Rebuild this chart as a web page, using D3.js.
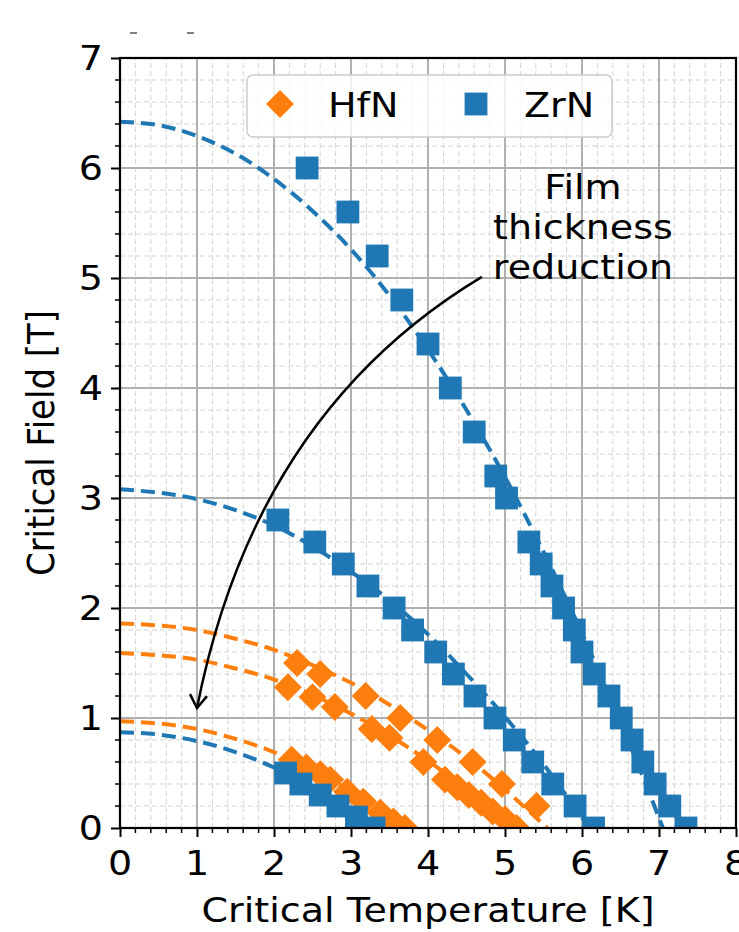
<!DOCTYPE html>
<html>
<head>
<meta charset="utf-8">
<script src="https://cdn.jsdelivr.net/npm/d3@7"></script>
<style>
  html, body { margin: 0; padding: 0; background: #fff; }
  svg { display: block; font-family: "DejaVu Sans", sans-serif; }
</style>
</head>
<body>
<svg id="chart" width="739" height="932"></svg>
<script>
// ticks
var xTicks = [0, 1, 2, 3, 4, 5, 6, 7, 8];
var yTicks = [0, 1, 2, 3, 4, 5, 6, 7];

// measured points, [T (K), Hc (T)]
var zrn1 = [[2.43, 6.0], [2.96, 5.6], [3.34, 5.2], [3.66, 4.8], [4.0, 4.4], [4.29, 4.0], [4.6, 3.6],
  [4.88, 3.2], [5.02, 3.0], [5.31, 2.6], [5.47, 2.4], [5.61, 2.2], [5.76, 2.0], [5.9, 1.8], [6.0, 1.6],
  [6.16, 1.4], [6.35, 1.2], [6.51, 1.0], [6.65, 0.8], [6.79, 0.6], [6.95, 0.4], [7.14, 0.2], [7.35, 0.0]];
var zrn2 = [[2.05, 2.8], [2.53, 2.6], [2.9, 2.4], [3.22, 2.2], [3.56, 2.0], [3.8, 1.8], [4.1, 1.6],
  [4.33, 1.4], [4.61, 1.2], [4.87, 1.0], [5.12, 0.8], [5.36, 0.6], [5.62, 0.4], [5.91, 0.2], [6.15, 0.0]];
var zrn3 = [[2.15, 0.5], [2.35, 0.4], [2.6, 0.3], [2.83, 0.2], [3.07, 0.1], [3.3, 0.0]];
var hfnA = [[2.3, 1.5], [2.6, 1.4], [3.19, 1.2], [3.64, 1.0], [4.12, 0.8], [4.58, 0.6], [4.96, 0.4], [5.41, 0.2]];
var hfnB = [[2.18, 1.28], [2.5, 1.19], [2.79, 1.1], [3.27, 0.9], [3.5, 0.82], [3.94, 0.6], [4.22, 0.44],
  [4.38, 0.37], [4.53, 0.3], [4.69, 0.23], [4.84, 0.15], [5.0, 0.08], [5.15, 0.0]];
var hfnC = [[2.23, 0.62], [2.42, 0.55], [2.6, 0.49], [2.73, 0.44], [2.95, 0.33], [3.16, 0.24],
  [3.38, 0.14], [3.55, 0.06], [3.7, 0.0]];

// dashed fit curves
var fitZrn1 = [[0, 6.42], [0.5, 6.39], [1, 6.29], [1.5, 6.13], [2, 5.90], [2.5, 5.61], [3, 5.26], [3.5, 4.84],
  [4, 4.35], [4.5, 3.80], [5, 3.19], [5.5, 2.51], [6, 1.77], [6.5, 0.96], [6.8, 0.45], [7.05, 0]];
var fitZrn2 = [[0, 3.08], [1, 2.99], [1.5, 2.89], [2, 2.75], [2.5, 2.56], [3, 2.33], [3.5, 2.07], [4, 1.76],
  [4.5, 1.40], [5, 1.01], [5.5, 0.58], [5.8, 0.29], [6.1, 0]];
var fitZrn3 = [[0, 0.87], [0.5, 0.85], [1, 0.79], [1.5, 0.69], [2, 0.55], [2.5, 0.37], [3, 0.15], [3.3, 0]];
var fitHfnA = [[0, 1.86], [1, 1.80], [1.5, 1.72], [2, 1.62], [2.5, 1.48], [3, 1.32], [3.5, 1.12], [4, 0.89],
  [4.5, 0.64], [5, 0.35], [5.3, 0.16], [5.55, 0]];
var fitHfnB = [[0, 1.59], [1, 1.53], [1.5, 1.45], [2, 1.35], [2.5, 1.21], [3, 1.04], [3.5, 0.84], [4, 0.61],
  [4.5, 0.35], [4.8, 0.18], [5.1, 0]];
var fitHfnC = [[0, 0.97], [0.5, 0.95], [1, 0.90], [1.5, 0.81], [2, 0.69], [2.5, 0.53], [3, 0.33], [3.4, 0.15], [3.7, 0]];

// annotation arrow: text anchor, control point, tip (data coords)
var arrowPts = [[4.7, 5.01], [1.75, 3.77], [1.0, 1.09]];
var annLines = ["Film", "thickness", "reduction"];

var BLUE = "#1f77b4", ORANGE = "#ff7f0e";
var FS = 34, SX = 1.12;  // the figure is a bit wider than tall, text looks stretched

var svg = d3.select("#chart");
var x = d3.scaleLinear().domain([0, 8]).range([120, 736]);
var y = d3.scaleLinear().domain([0, 7]).range([828, 58]);

// text at (px,py) stretched horizontally around its anchor
function stext(g, px, py, anchor, str) {
  return g.append("text")
    .attr("transform", "translate(" + px + "," + py + ") scale(" + SX + ",1)")
    .attr("text-anchor", anchor).attr("font-size", FS).attr("fill", "#000").text(str);
}

svg.append("clipPath").attr("id", "plotclip")
  .append("rect").attr("x", 120).attr("y", 58).attr("width", 616).attr("height", 770);

// grid
var minorX = d3.range(0, 8.001, 0.2).filter(function(v) { return Math.abs(v - Math.round(v)) > 0.01; });
var minorY = d3.range(0, 7.001, 0.2).filter(function(v) { return Math.abs(v - Math.round(v)) > 0.01; });
var grid = svg.append("g");
grid.selectAll(".mx").data(minorX).enter().append("line")
  .attr("x1", x).attr("x2", x).attr("y1", y(0)).attr("y2", y(7))
  .attr("stroke", "#d4d4d4").attr("stroke-width", 1).attr("stroke-dasharray", "5,3");
grid.selectAll(".my").data(minorY).enter().append("line")
  .attr("y1", y).attr("y2", y).attr("x1", x(0)).attr("x2", x(8))
  .attr("stroke", "#d4d4d4").attr("stroke-width", 1).attr("stroke-dasharray", "5,3");
grid.selectAll(".gx").data(xTicks).enter().append("line")
  .attr("x1", x).attr("x2", x).attr("y1", y(0)).attr("y2", y(7))
  .attr("stroke", "#b0b0b0").attr("stroke-width", 2);
grid.selectAll(".gy").data(yTicks).enter().append("line")
  .attr("y1", y).attr("y2", y).attr("x1", x(0)).attr("x2", x(8))
  .attr("stroke", "#b0b0b0").attr("stroke-width", 2);

var plot = svg.append("g").attr("clip-path", "url(#plotclip)");
var line = d3.line().x(function(d) { return x(d[0]); }).y(function(d) { return y(d[1]); })
  .curve(d3.curveMonotoneX);

[[fitHfnA, ORANGE], [fitHfnB, ORANGE], [fitHfnC, ORANGE], [fitZrn1, BLUE], [fitZrn2, BLUE], [fitZrn3, BLUE]]
  .forEach(function(f) {
    plot.append("path").attr("d", line(f[0])).attr("fill", "none")
      .attr("stroke", f[1]).attr("stroke-width", 4).attr("stroke-dasharray", "14,7");
  });

var diamond = d3.symbol().type(d3.symbolSquare).size(390);
var square = d3.symbol().type(d3.symbolSquare).size(520);

[hfnA, hfnB, hfnC].forEach(function(s) {
  plot.append("g").selectAll("path").data(s).enter().append("path")
    .attr("d", diamond)
    .attr("transform", function(d) { return "translate(" + x(d[0]) + "," + y(d[1]) + ") rotate(45)"; })
    .attr("fill", ORANGE);
});
[zrn1, zrn2, zrn3].forEach(function(s) {
  plot.append("g").selectAll("path").data(s).enter().append("path")
    .attr("d", square)
    .attr("transform", function(d) { return "translate(" + x(d[0]) + "," + y(d[1]) + ")"; })
    .attr("fill", BLUE);
});

// axes
var xAxis = d3.axisBottom(x).tickValues(xTicks).tickSize(9).tickFormat("");
var yAxis = d3.axisLeft(y).tickValues(yTicks).tickSize(9).tickFormat("");
var gx = svg.append("g").attr("transform", "translate(0," + y(0) + ")").call(xAxis);
var gy = svg.append("g").attr("transform", "translate(" + x(0) + ",0)").call(yAxis);
[gx, gy].forEach(function(g) {
  g.select(".domain").remove();
  g.selectAll("line").attr("stroke", "#000").attr("stroke-width", 2);
});
xTicks.forEach(function(t) { stext(svg, x(t), y(0) + 47, "middle", String(t)); });
yTicks.forEach(function(t) { stext(svg, x(0) - 17, y(t) + 12, "end", String(t)); });

svg.append("g").selectAll("line").data(minorX).enter().append("line")
  .attr("x1", x).attr("x2", x).attr("y1", y(0)).attr("y2", y(0) + 5)
  .attr("stroke", "#000").attr("stroke-width", 1.5);
svg.append("g").selectAll("line").data(minorY).enter().append("line")
  .attr("y1", y).attr("y2", y).attr("x1", x(0)).attr("x2", x(0) - 5)
  .attr("stroke", "#000").attr("stroke-width", 1.5);
svg.append("rect").attr("x", x(0)).attr("y", y(7)).attr("width", x(8) - x(0)).attr("height", y(0) - y(7))
  .attr("fill", "none").attr("stroke", "#000").attr("stroke-width", 2.2);

stext(svg, (x(0) + x(8)) / 2, 922, "middle", "Critical Temperature [K]");
svg.append("text").attr("transform", "translate(54," + (y(0) + y(7)) / 2 + ") scale(" + SX + ",1) rotate(-90)")
  .attr("text-anchor", "middle").attr("font-size", FS).text("Critical Field [T]");

// leftovers at the top of the figure
svg.append("line").attr("x1", 130).attr("x2", 137).attr("y1", 33).attr("y2", 33).attr("stroke", "#555").attr("stroke-width", 1.5);
svg.append("line").attr("x1", 187).attr("x2", 194).attr("y1", 33).attr("y2", 33).attr("stroke", "#555").attr("stroke-width", 1.5);

// legend
var lg = svg.append("g");
lg.append("rect").attr("x", 247).attr("y", 75).attr("width", 365).attr("height", 62).attr("rx", 6)
  .attr("fill", "#fff").attr("fill-opacity", 0.8).attr("stroke", "#cccccc").attr("stroke-width", 1.5);
lg.append("path").attr("d", diamond).attr("transform", "translate(280,104) rotate(45)").attr("fill", ORANGE);
stext(lg, 328, 117, "start", "HfN");
lg.append("path").attr("d", square).attr("transform", "translate(476,104)").attr("fill", BLUE);
stext(lg, 524, 117, "start", "ZrN");

// annotation
annLines.forEach(function(t, i) { stext(svg, 583, 199 + i * 40, "middle", t); });
var p0 = arrowPts[0], p1 = arrowPts[1], p2 = arrowPts[2];
svg.append("path")
  .attr("d", "M" + x(p0[0]) + "," + y(p0[1]) + " Q" + x(p1[0]) + "," + y(p1[1]) + " " + x(p2[0]) + "," + y(p2[1]))
  .attr("fill", "none").attr("stroke", "#000").attr("stroke-width", 2.5);
var tx = x(p2[0]), ty = y(p2[1]);
svg.append("path")
  .attr("d", "M" + (tx - 7) + "," + (ty - 14) + " L" + tx + "," + ty + " L" + (tx + 10) + "," + (ty - 12))
  .attr("fill", "none").attr("stroke", "#000").attr("stroke-width", 2.5);
</script>
</body>
</html>
